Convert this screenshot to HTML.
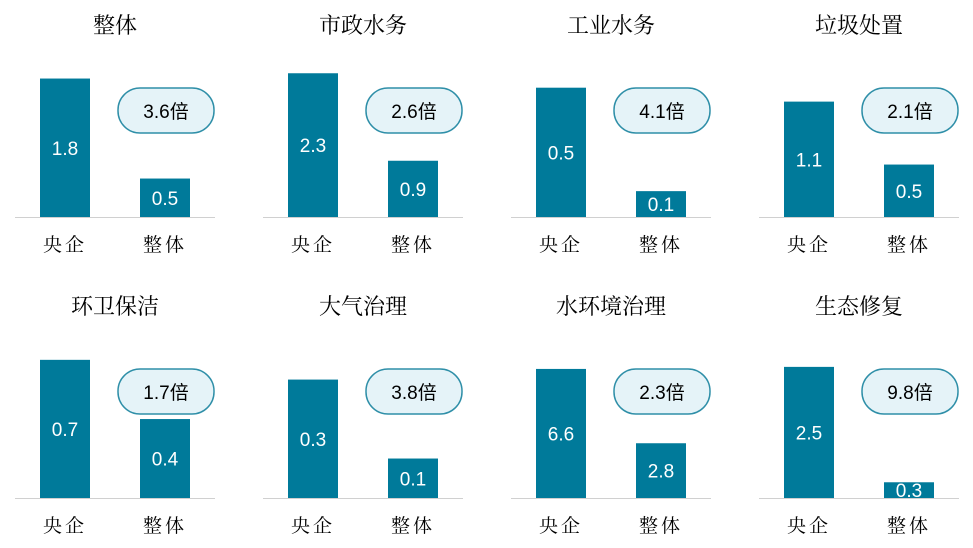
<!DOCTYPE html>
<html><head><meta charset="utf-8"><style>
body{margin:0;background:#fff;}
svg{display:block;}
</style></head><body>
<svg id="c" width="973" height="548" viewBox="0 0 973 548" xmlns="http://www.w3.org/2000/svg"></svg>
<script>
const titles=["整体","市政水务","工业水务","垃圾处置","环卫保洁","大气治理","水环境治理","生态修复"];
const categories=["央企","整体"];
const soeValues=[1.8,2.3,0.5,1.1,0.7,0.3,6.6,2.5];
const allValues=[0.5,0.9,0.1,0.5,0.4,0.1,2.8,0.3];
const ratioLabels=["3.6倍","2.6倍","4.1倍","2.1倍","1.7倍","3.8倍","2.3倍","9.8倍"];
const axisMax=[1.95,2.4,0.58,1.43,0.76,0.38,7.67,2.86];
const svg=document.getElementById('c');
const NS='http://www.w3.org/2000/svg';
function mk(t,a,p){const e=document.createElementNS(NS,t);for(const k in a)e.setAttribute(k,a[k]);(p||svg).appendChild(e);return e;}
const plotH=150,barW=50;
titles.forEach((t,i)=>{
  const col=i%4,row=Math.floor(i/4);
  const ox=col*248,base=row?498:217;
  const g=mk('g',{});
  
  
  const y=v=>base-v/axisMax[i]*plotH;
  const tt=mk('text',{x:ox+115,y:base-184,'text-anchor':'middle','font-size':22,'font-family':'"Liberation Serif","Noto Serif CJK SC",serif',fill:'#000'},g);
  tt.textContent=t;
  
  
  const ln=mk('line',{x1:ox+15,x2:ox+215,y1:base+0.5,y2:base+0.5,stroke:'#d0d0d0','stroke-width':1},g);
  
  
  [soeValues[i],allValues[i]].forEach((v,j)=>{
    const bx=ox+40+j*100,top=y(v);
    const r=mk('rect',{x:bx,y:top,width:barW,height:base-top,fill:'#007a9a'},g);
    
    
    const lt=mk('text',{x:bx+25,y:(top+base)/2+7,'text-anchor':'middle','font-size':19,'font-family':'"Liberation Sans",sans-serif',fill:'#fff'},g);
    lt.textContent=v.toFixed(1);
    
    
    const ct=mk('text',{x:bx+25,y:base+34,'text-anchor':'middle','font-size':19,'font-family':'"Liberation Serif","Noto Serif CJK SC",serif',fill:'#000','letter-spacing':3},g);
    ct.textContent=categories[j];
    
    
  });
  const bb=mk('rect',{x:ox+118,y:base-129,width:96,height:45,rx:22,fill:'#e5f3f8',stroke:'#2f8fa8','stroke-width':1.5},g);
  
  
  const bt=mk('text',{x:ox+166,y:base-99,'text-anchor':'middle','font-size':19,'font-family':'"Liberation Sans","Noto Sans CJK SC",sans-serif',fill:'#000'},g);
  bt.textContent=ratioLabels[i];
  
  
});
</script>
</body></html>
